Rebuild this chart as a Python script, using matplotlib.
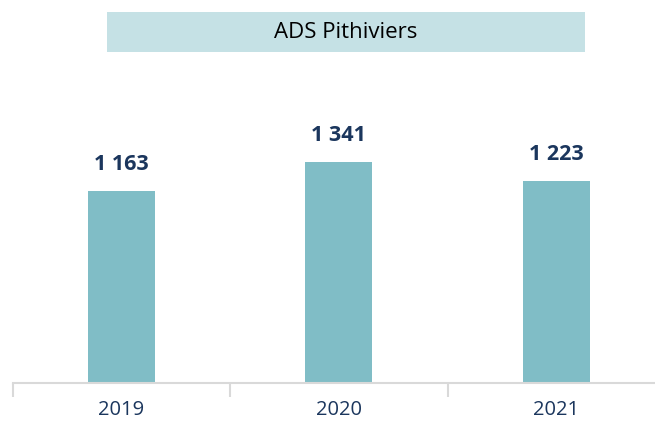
import matplotlib

matplotlib.use("Agg")
import matplotlib.pyplot as plt
from matplotlib.patches import Rectangle

plt.rcParams["font.family"] = ["Open Sans", "DejaVu Sans"]

years = ["2019", "2020", "2021"]
values = [1163, 1341, 1223]
title = "ADS Pithiviers"

BAR = "#80bdc6"
NAVY = "#1b365d"
GRID = "#d9d9d9"

W, H = 655, 423
fig = plt.figure(figsize=(W / 100, H / 100), dpi=100)

# axes placed in pixel terms: baseline at y=383, categories 12.5 -> 665
left, right = 12.5, 665
bottom, top = 383, 119
ax = fig.add_axes([left / W, (H - bottom) / H, (right - left) / W, (bottom - top) / H])
ax.set_xlim(-0.5, 2.5)
ax.set_ylim(0, 1600)

x = range(len(years))
ax.bar(x, values, width=0.31, color=BAR, zorder=2)
for xi, v in zip(x, values):
    ax.text(xi, v + 160, f"{v:,}".replace(",", " "), ha="center", va="center",
            fontsize=15.5, weight="bold", color=NAVY)

for s in ["top", "right", "left"]:
    ax.spines[s].set_visible(False)
ax.spines["bottom"].set_color(GRID)
ax.spines["bottom"].set_linewidth(1.5)
ax.set_yticks([])
ax.set_xticks([-0.5, 0.5, 1.5, 2.5])
ax.set_xticklabels([])
ax.set_xticks(list(x), minor=True)
ax.set_xticklabels(years, minor=True)
ax.tick_params(axis="x", which="major", length=10, width=1.5, color=GRID)
ax.tick_params(axis="x", which="minor", length=0, pad=12, labelsize=14.5, labelcolor=NAVY)

# title box
fig.patches.append(Rectangle((107 / W, (H - 52) / H), (585 - 107) / W, 40 / H,
                             transform=fig.transFigure, fc="#c5e1e5", ec="none"))
fig.text(346 / W, (H - 32) / H, title, ha="center", va="center", fontsize=16, color="#000")

fig.savefig("out.png", dpi=100)
